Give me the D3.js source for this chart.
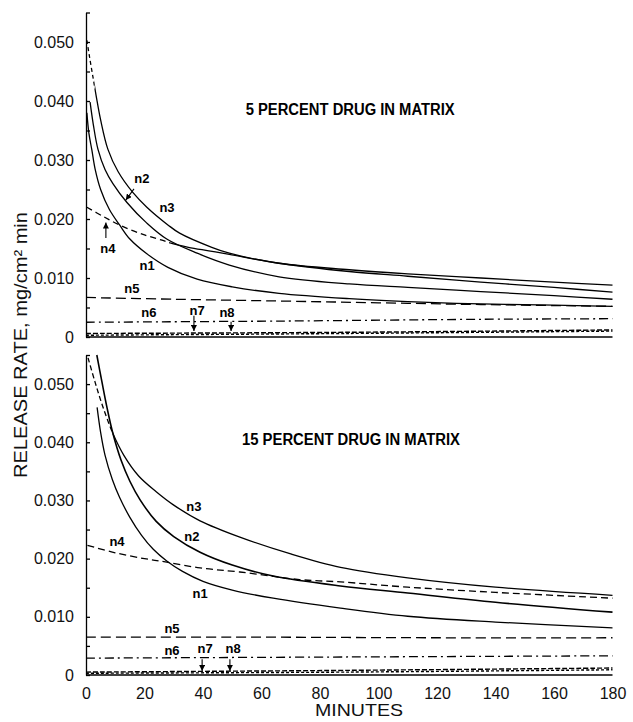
<!DOCTYPE html>
<html><head><meta charset="utf-8">
<script src="https://cdn.jsdelivr.net/npm/d3@7"></script>
<style>body{margin:0;background:#fff}</style>
</head><body>
<svg id="c" width="633" height="722"></svg>
<script>
// ---------- DATA ----------
const xTickValues = [0, 20, 40, 60, 80, 100, 120, 140, 160, 180];
const yTickValues = [0, 0.010, 0.020, 0.030, 0.040, 0.050];
const yMinorTicks = [0, 0.005, 0.010, 0.015, 0.020, 0.025, 0.030, 0.035, 0.040, 0.045, 0.050, 0.055];
const xLabel = "MINUTES";
const yLabel = "RELEASE RATE, mg/cm\u00B2 min";
const titles = ["5 PERCENT DRUG IN MATRIX", "15 PERCENT DRUG IN MATRIX"];

// 5 percent panel: [minutes, release rate]
const p5_n1 = [[0.3,0.0380],[1,0.0345],[2,0.0317],[3.1,0.0285],[5,0.0250],[8,0.0216],[11.6,0.0189],[15,0.0166],[20.8,0.0141],[28,0.0118],[38,0.0098],[50,0.0085],[66,0.0074],[90,0.0065],[110,0.0060],[135,0.0056],[160,0.0054],[180,0.0052]];
const p5_n2 = [[1.4,0.0398],[2.5,0.0360],[4.1,0.0318],[6.5,0.0284],[9.2,0.0260],[14,0.0228],[20.8,0.0193],[27.6,0.0166],[38,0.0142],[49,0.0122],[66,0.0102],[90,0.0090],[110,0.0084],[135,0.0077],[160,0.0070],[180,0.0064]];
const p5_n3 = [[0.3,0.0503],[1.2,0.0475],[2.4,0.0440],[3.5,0.0408],[5,0.0368],[7.5,0.0318],[11,0.0280],[16,0.0245],[20.8,0.0220],[28,0.0190],[32,0.0176],[43,0.0152],[49,0.0142],[66,0.0125],[90,0.0114],[110,0.0107],[135,0.0100],[160,0.0093],[180,0.0088]];
const p5_n4 = [[0.3,0.0220],[6,0.0204],[12.7,0.0187],[20,0.0173],[26,0.0164],[29,0.0159],[35,0.0152],[42,0.0146],[49,0.0140],[66,0.0125],[90,0.0111],[110,0.0103],[135,0.0093],[160,0.0084],[180,0.0076]];
const p5_n5 = [[0,0.0067],[30,0.0064],[66,0.0061],[100,0.0058],[135,0.0055],[180,0.0052]];
const p5_n6 = [[0,0.0025],[66,0.0027],[135,0.0030],[180,0.0031]];
const p5_n7 = [[0,0.0006],[90,0.0008],[180,0.0012]];
const p5_n8 = [[0,0.0003],[90,0.0006],[180,0.0010]];

// 15 percent panel
const p15_n1 = [[3.8,0.0460],[5,0.0417],[6.5,0.0378],[9,0.0336],[11.5,0.0305],[15,0.0271],[19,0.0240],[23,0.0216],[27.6,0.0196],[33,0.0178],[40,0.0161],[50,0.0146],[64,0.0132],[87,0.0115],[110,0.0101],[140,0.0091],[180,0.0081]];
const p15_n2 = [[3.7,0.0550],[5.4,0.0505],[7.2,0.0459],[9.2,0.0415],[12,0.0369],[15,0.0333],[18.5,0.0301],[24,0.0264],[30,0.0238],[39,0.0211],[50,0.0189],[64,0.0170],[87,0.0153],[110,0.0141],[140,0.0125],[180,0.0108]];
const p15_n3 = [[0.7,0.0545],[3,0.0505],[5.5,0.0465],[9.2,0.0415],[13,0.0377],[18,0.0342],[24,0.0315],[30,0.0292],[39,0.0265],[52.6,0.0237],[70,0.0208],[87,0.0185],[110,0.0167],[140,0.0151],[180,0.0137]];
const p15_n4 = [[0.5,0.0223],[10,0.0210],[20,0.0200],[27.6,0.0194],[39,0.0184],[52.6,0.0177],[73,0.0164],[87,0.0160],[110,0.0151],[140,0.0142],[180,0.0132]];
const p15_n5 = [[0,0.0065],[60,0.0065],[120,0.0064],[180,0.0064]];
const p15_n6 = [[0,0.0029],[90,0.0031],[180,0.0033]];
const p15_n7 = [[0,0.0005],[90,0.0008],[180,0.0012]];
const p15_n8 = [[0,0.0003],[90,0.0005],[180,0.0009]];

// curve labels: [text, minutes, rate]
const p5_labels = [["n1",20.9,0.0122],["n2",19.1,0.0269],["n3",27.7,0.0219],["n4",7.5,0.0151],["n5",15.7,0.0083],["n6",21.5,0.0041],["n7",38,0.0046],["n8",48.2,0.0042]];
const p15_labels = [["n1",39,0.0141],["n2",36.2,0.0239],["n3",36.9,0.0290],["n4",10.6,0.0229],["n5",29.4,0.0081],["n6",29.4,0.0043],["n7",40.7,0.0046],["n8",50.3,0.0046]];
// arrows: [fromMinutes, fromRate, toMinutes, toRate]
const p5_arrows = [[16.4,0.0251,13.6,0.0232],[6.8,0.0168,6.8,0.0194],[36.9,0.0036,36.9,0.0010],[49.6,0.0026,49.6,0.0010]];
const p15_arrows = [[39.7,0.0027,39.7,0.0007],[49.2,0.0027,49.2,0.0007]];

// ---------- DRAW ----------
const svg = d3.select("#c");
svg.append("rect").attr("width",633).attr("height",722).attr("fill","#fff");
const defs = svg.append("defs");
defs.append("marker")
  .attr("id","ah").attr("viewBox","0 0 6 6").attr("refX",6).attr("refY",3)
  .attr("markerWidth",6).attr("markerHeight",6).attr("markerUnits","userSpaceOnUse")
  .attr("orient","auto")
  .append("path").attr("d","M0,0L6,3L0,6Z").attr("fill","#000");

const x = d3.scaleLinear().domain([0,180]).range([86,612.5]);
const FONT = "'Liberation Sans', Arial, Helvetica, sans-serif";
const NARROW = "'Liberation Sans Narrow', 'Arial Narrow', 'Liberation Sans', sans-serif";
let clipId = 0;

function panel(yBottom, yTop, lines, labels, arrows, title, titleT, titleV, titleLen, showX) {
  const y = d3.scaleLinear().domain([0,0.055]).range([yBottom, yTop]);
  const g = svg.append("g");
  const line = d3.line().x(d => x(d[0])).y(d => y(d[1])).curve(d3.curveCatmullRom.alpha(0.5));

  g.append("line").attr("x1",x(0)).attr("x2",x(180)).attr("y1",y(0)).attr("y2",y(0))
    .attr("stroke","#000").attr("stroke-width",1.6);

  lines.forEach(s => {
    const d = line(s.data);
    if (s.dashUntil != null) {
      const xs = x(s.dashUntil);
      const idA = "clip" + (clipId++), idB = "clip" + (clipId++);
      defs.append("clipPath").attr("id",idA).append("rect")
        .attr("x",0).attr("y",0).attr("width",xs).attr("height",722);
      defs.append("clipPath").attr("id",idB).append("rect")
        .attr("x",xs).attr("y",0).attr("width",633-xs).attr("height",722);
      g.append("path").attr("d",d).attr("fill","none").attr("stroke","#000")
        .attr("stroke-width",s.w || 1.3).attr("stroke-dasharray",s.dash)
        .attr("clip-path",`url(#${idA})`);
      g.append("path").attr("d",d).attr("fill","none").attr("stroke","#000")
        .attr("stroke-width",s.w || 1.3).attr("clip-path",`url(#${idB})`);
    } else {
      g.append("path").attr("d", d).attr("fill","none")
        .attr("stroke","#000").attr("stroke-width", s.w || 1.3)
        .attr("stroke-dasharray", s.dash || null);
    }
  });

  const ax = g.append("g").attr("transform",`translate(${x(0)},0)`)
    .call(d3.axisRight(y).tickValues(yMinorTicks).tickSize(4).tickSizeOuter(0).tickFormat(""));
  ax.selectAll("path,line").attr("stroke","#000").attr("stroke-width",1.3);
  const axl = g.append("g").attr("transform",`translate(${x(0)},0)`)
    .call(d3.axisLeft(y).tickValues(yTickValues).tickSize(0).tickPadding(12)
      .tickFormat(d => d === 0 ? "0" : d3.format(".3f")(d)));
  axl.select(".domain").remove();
  axl.selectAll("text").attr("font-family",FONT).attr("font-size",16).attr("fill","#111");

  if (showX) {
    const axx = g.append("g").attr("transform",`translate(0,${y(0)})`)
      .call(d3.axisBottom(x).tickValues(xTickValues).tickSize(0).tickPadding(13));
    axx.select(".domain").remove();
    axx.selectAll("text").attr("font-family",FONT).attr("font-size",16).attr("fill","#111");
  }

  labels.forEach(l => {
    g.append("text").attr("x",x(l[1])).attr("y",y(l[2])).attr("dy","0.36em")
      .attr("text-anchor","middle").attr("font-family",NARROW).attr("font-weight","bold")
      .attr("font-size",13).attr("fill","#000").text(l[0]);
  });
  arrows.forEach(a => {
    g.append("line").attr("x1",x(a[0])).attr("y1",y(a[1])).attr("x2",x(a[2])).attr("y2",y(a[3]))
      .attr("stroke","#000").attr("stroke-width",1.1).attr("marker-end","url(#ah)");
  });

  g.append("text").attr("x",x(titleT)).attr("y",y(titleV)).attr("text-anchor","middle")
    .attr("font-family",NARROW).attr("font-weight","bold").attr("font-size",16)
    .attr("textLength",titleLen).attr("lengthAdjust","spacingAndGlyphs").text(title);
}

panel(337, 12.5, [
  {data:p5_n1}, {data:p5_n2}, {data:p5_n3, dash:"4,3", dashUntil:3},
  {data:p5_n4, dash:"6,4", dashUntil:29},
  {data:p5_n5, dash:"10,5"}, {data:p5_n6, dash:"9,4,2,4"},
  {data:p5_n7, dash:"5,2", w:1.4}, {data:p5_n8, dash:"3,2", w:1.4}
], p5_labels, p5_arrows, titles[0], 90.3, 0.0376, 209, false);

panel(675, 355, [
  {data:p15_n1}, {data:p15_n2, w:1.6}, {data:p15_n3, dash:"5,3", dashUntil:9.2},
  {data:p15_n4, dash:"7,4"},
  {data:p15_n5, dash:"10,5"}, {data:p15_n6, dash:"9,4,2,4"},
  {data:p15_n7, dash:"5,2", w:1.4}, {data:p15_n8, dash:"3,2", w:1.4}
], p15_labels, p15_arrows, titles[1], 90.6, 0.0395, 218, true);

svg.append("text").attr("transform","translate(26.5,345) rotate(-90)")
  .attr("text-anchor","middle").attr("font-family",FONT).attr("font-size",17.5)
  .attr("fill","#111").attr("textLength",266).attr("lengthAdjust","spacingAndGlyphs").text(yLabel);
svg.append("text").attr("x",359).attr("y",716).attr("text-anchor","middle")
  .attr("font-family",FONT).attr("font-size",16.5).attr("fill","#111")
  .attr("textLength",88).attr("lengthAdjust","spacingAndGlyphs").text(xLabel);
</script>
</body></html>
